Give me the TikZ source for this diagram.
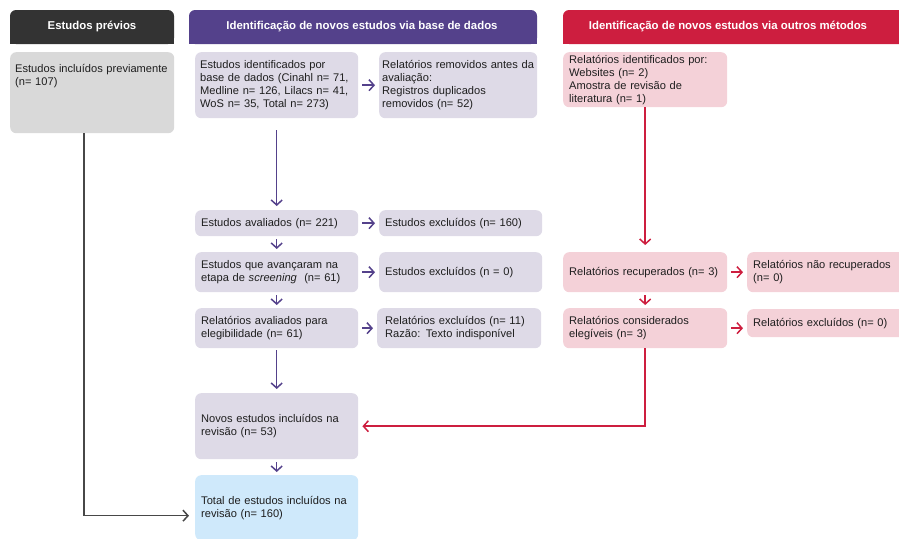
\documentclass[tikz,border=0pt]{standalone}
\usepackage{fontspec}
\setmainfont{Liberation Sans}
\usetikzlibrary{arrows.meta}
\definecolor{prevdark}{HTML}{333333}
\definecolor{dbpurple}{HTML}{54418B}
\definecolor{outred}{HTML}{CD1E3F}
\definecolor{prevfill}{HTML}{D9D9D9}
\definecolor{dbfill}{HTML}{DEDAE7}
\definecolor{outfill}{HTML}{F4D1D8}
\definecolor{totalfill}{HTML}{CFE9FB}
\definecolor{txtdark}{HTML}{1E1E1E}
\tikzset{
 flowbox/.style={rounded corners=6pt,anchor=north west,align=left,
   inner xsep=6pt,inner ysep=2pt,text=txtdark,
   font=\fontsize{11.1}{13}\selectfont},
 prevbox/.style={flowbox,fill=prevfill},
 dbbox/.style={flowbox,fill=dbfill},
 outbox/.style={flowbox,fill=outfill},
 totalbox/.style={flowbox,fill=totalfill},
 headtext/.style={text=white,font=\fontsize{11.4}{13}\selectfont\bfseries},
 flowarrow/.style={line width=1.5pt,-{Straight Barb[length=5pt,width=11pt]}},
 dbarrow/.style={flowarrow,draw=dbpurple},
 outarrow/.style={flowarrow,draw=outred},
 prevarrow/.style={flowarrow,draw=prevdark!90}
}
\begin{document}
\begin{tikzpicture}[x=1pt,y=-1pt]
 \useasboundingbox (0,0) rectangle (899,538);
 % header bars, rounded on top only
 \foreach \xa/\xb/\c in {10/174/prevdark,189/537/dbpurple,563/905/outred}
 {\fill[\c,rounded corners=6pt] (\xa,10) rectangle (\xb,44);
  \fill[\c] (\xa,30) rectangle (\xb,44);}
 \node[headtext] (hprev) at (92,27) {Estudos prévios};
 \node[headtext] (hdb) at (362,27) {Identificação de novos estudos via base de dados};
 \node[headtext] (hout) at (728,27) {Identificação de novos estudos via outros métodos};
 % previous studies
 \node[prevbox,text width=154pt,inner xsep=5pt,text height=18pt,text depth=59pt] (prev) at (10,52)
  {Estudos incluídos previamente\\(n= 107)};
 % databases
 \node[dbbox,text width=153pt,inner xsep=5pt,minimum height=66pt] (ident) at (195,52)
  {Estudos identificados por\\base de dados (Cinahl n= 71,\\Medline n= 126, Lilacs n= 41,\\WoS n= 35, Total n= 273)};
 \node[dbbox,text width=152pt,inner xsep=3pt,minimum height=66pt] (removed) at (379,52)
  {Relatórios removidos antes da\\avaliação:\\Registros duplicados\\removidos (n= 52)};
 \node[dbbox,text width=151pt,minimum height=26pt] (aval) at (195,210)
  {Estudos avaliados (n= 221)};
 \node[dbbox,text width=151pt,minimum height=26pt] (exclA) at (379,210)
  {Estudos excluídos (n= 160)};
 \node[dbbox,text width=151pt,minimum height=40pt] (screen) at (195,252)
  {Estudos que avançaram na\\etapa de \emph{screening}\ \ (n= 61)};
 \node[dbbox,text width=151pt,minimum height=40pt] (exclB) at (379,252)
  {Estudos excluídos (n = 0)};
 \node[dbbox,text width=151pt,minimum height=40pt] (eleg) at (195,308)
  {Relatórios avaliados para\\elegibilidade (n= 61)};
 \node[dbbox,text width=148pt,minimum height=40pt,inner xsep=8pt] (exclC) at (377,308)
  {Relatórios excluídos (n= 11)\\Razão: Texto indisponível};
 \node[dbbox,text width=151pt,minimum height=66pt] (novos) at (195,393)
  {Novos estudos incluídos na\\revisão (n= 53)};
 \node[totalbox,text width=151pt,minimum height=65pt] (total) at (195,475)
  {Total de estudos incluídos na\\revisão (n= 160)};
 % other methods
 \node[outbox,text width=152pt,minimum height=55pt] (outros) at (563,52)
  {Relatórios identificados por:\\Websites (n= 2)\\Amostra de revisão de\\literatura (n= 1)};
 \node[outbox,text width=152pt,minimum height=40pt] (recup) at (563,252)
  {Relatórios recuperados (n= 3)};
 \node[outbox,text width=146pt,minimum height=40pt] (naorec) at (747,252)
  {Relatórios não recuperados\\(n= 0)};
 \node[outbox,text width=152pt,minimum height=40pt] (consid) at (563,308)
  {Relatórios considerados\\elegíveis (n= 3)};
 \node[outbox,text width=146pt,minimum height=28pt] (exclO) at (747,309)
  {Relatórios excluídos (n= 0)};
 % connectors
 \draw[dbarrow,shorten <=12pt,shorten >=4pt] (ident) -- (aval);
 \foreach \a/\b in {aval/screen,screen/eleg,novos/total}
 {\draw[dbarrow,shorten <=3pt,shorten >=3pt] (\a) -- (\b);}
 \draw[dbarrow,shorten <=2pt,shorten >=4pt] (eleg) -- (novos);
 \foreach \a/\b in {ident/removed,aval/exclA,screen/exclB,eleg/exclC}
 {\draw[dbarrow,shorten <=4pt,shorten >=4pt] (\a) -- (\b);}
 \draw[outarrow,shorten >=7pt] (outros) -- (recup);
 \draw[outarrow,shorten <=3pt,shorten >=3pt] (recup) -- (consid);
 \draw[outarrow,shorten <=4pt,shorten >=4pt] (recup) -- (naorec);
 \draw[outarrow,shorten <=4pt,shorten >=4pt] (consid.east) -- (consid.east -| exclO.west);
 \draw[outarrow,shorten >=4pt] (consid.south) |- (novos.east);
 \draw[prevarrow,shorten >=6pt] ([xshift=-8pt]prev.south) |- ([yshift=-8pt]total.west);
\end{tikzpicture}
\end{document}
